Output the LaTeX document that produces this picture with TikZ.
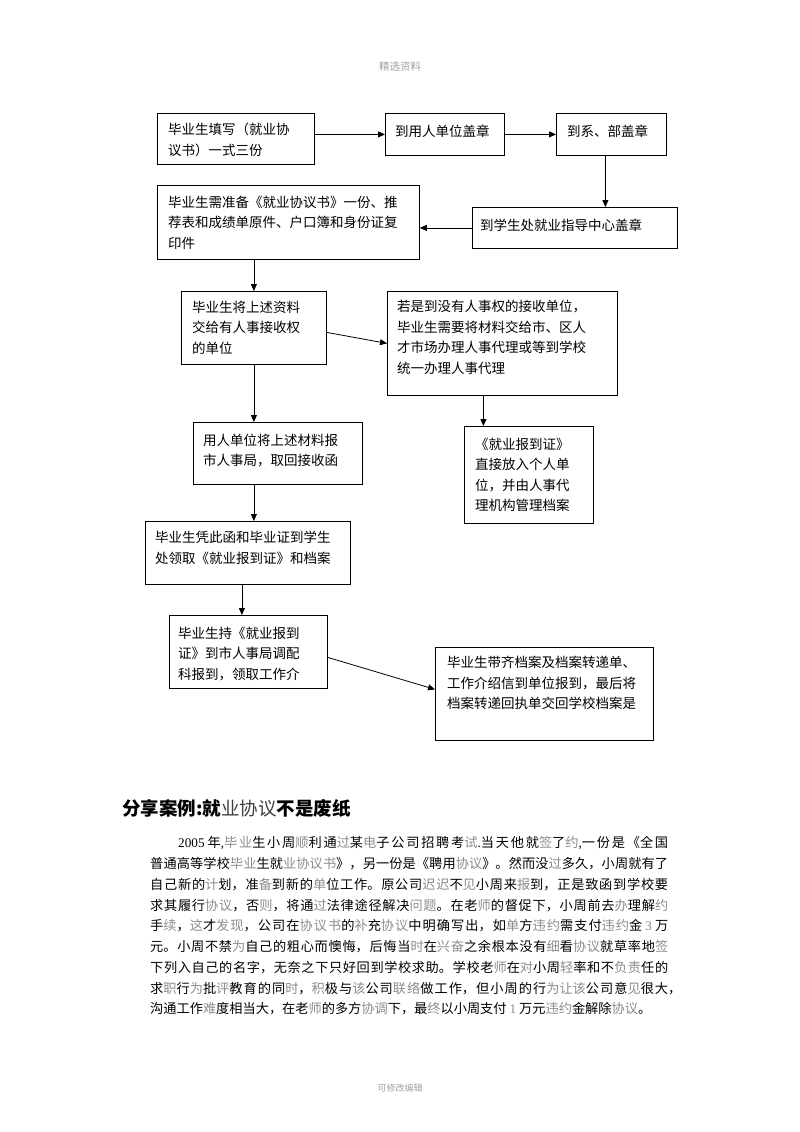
\documentclass[tikz,border=0pt]{standalone}
\usepackage{fontspec}
\setmainfont{Noto Sans CJK SC}
\newfontfamily\latf{Liberation Serif}
\usetikzlibrary{arrows.meta,calc}
\definecolor{lg}{HTML}{8C8C8C}
\definecolor{hd}{HTML}{A0A0A0}
\newcommand{\gy}[1]{\textcolor{lg}{#1}}
\XeTeXlinebreaklocale "zh"
\XeTeXlinebreakskip = 0pt plus 1.5pt
\begin{document}
\begin{tikzpicture}[x=1pt,y=-1pt,
  box/.style={draw, line width=0.8pt, inner sep=0pt, anchor=north west},
  btxt/.style={anchor=west, align=left, inner sep=0pt, font=\fontsize{13.5}{20.5}\selectfont},
  arr/.style={-{Triangle[length=7pt,width=6pt]}, line width=0.8pt}]
\useasboundingbox[fill=white] (0,0) rectangle (800,1132);

% header / footer
\node[inner sep=0pt, text=hd, font=\fontsize{10.5}{12}\selectfont] (hdr) at (400,67) {精选资料};
\node[inner sep=0pt, text=hd, font=\fontsize{9}{11}\selectfont] (ftr) at (400,1088) {可修改编辑};

% boxes
\node[box, minimum width=157pt, minimum height=51pt] (A) at (157,113) {};
\node[box, minimum width=119pt, minimum height=42pt] (B) at (385,113) {};
\node[box, minimum width=110pt, minimum height=42pt] (C) at (556,113) {};
\node[box, minimum width=205pt, minimum height=41pt] (D) at (472,207) {};
\node[box, minimum width=262pt, minimum height=74pt] (E) at (157,185) {};
\node[box, minimum width=145pt, minimum height=73pt] (F) at (181,291) {};
\node[box, minimum width=230pt, minimum height=104pt] (G) at (387,291) {};
\node[box, minimum width=169pt, minimum height=62pt] (H) at (193,422) {};
\node[box, minimum width=129pt, minimum height=97pt] (I) at (464,426) {};
\node[box, minimum width=205pt, minimum height=63pt] (J) at (145,521) {};
\node[box, minimum width=158pt, minimum height=73pt] (K) at (169,615) {};
\node[box, minimum width=218pt, minimum height=93pt] (L) at (435,647) {};

% box texts
\node[btxt] (At) at (168,140) {毕业生填写（就业协\\议书）一式三份};
\node[btxt] (Bt) at (395,131) {到用人单位盖章};
\node[btxt] (Ct) at (567,131) {到系、部盖章};
\node[btxt] (Dt) at (480,225) {到学生处就业指导中心盖章};
\node[btxt] (Et) at (168,222.5) {毕业生需准备《就业协议书》一份、推\\荐表和成绩单原件、户口簿和身份证复\\印件};
\node[btxt] (Ft) at (192,327.5) {毕业生将上述资料\\交给有人事接收权\\的单位};
\node[btxt] (Gt) at (397,337.5) {若是到没有人事权的接收单位，\\毕业生需要将材料交给市、区人\\才市场办理人事代理或等到学校\\统一办理人事代理};
\node[btxt] (Ht) at (203,450.5) {用人单位将上述材料报\\市人事局，取回接收函};
\node[btxt] (It) at (475,475) {《就业报到证》\\直接放入个人单\\位，并由人事代\\理机构管理档案};
\node[btxt] (Jt) at (155,548) {毕业生凭此函和毕业证到学生\\处领取《就业报到证》和档案};
\node[btxt] (Kt) at (178,654) {毕业生持《就业报到\\证》到市人事局调配\\科报到，领取工作介};
\node[btxt] (Lt) at (447,683) {毕业生带齐档案及档案转递单、\\工作介绍信到单位报到，最后将\\档案转递回执单交回学校档案是};

% connectors
\draw[arr] (A.east |- B.west) -- (B.west);
\draw[arr] (B.east) -- (C.west);
\draw[arr] ([xshift=-6pt]C.south) -- ([xshift=-6pt]C.south |- D.north);
\draw[arr] (D.west) -- (D.west -| E.east);
\draw[arr] (F.north |- E.south) -- (F.north);
\draw[arr] ([yshift=-4.5pt]F.east) -- (G.west);
\draw[arr] (F.south) -- (F.south |- H.north);
\draw[arr] ([xshift=-19pt]G.south) -- ([xshift=-19pt]G.south |- I.north);
\draw[arr] (F.south |- H.south) -- (F.south |- J.north);
\draw[arr] ([xshift=-6pt]J.south) -- ([xshift=-6pt]J.south |- K.north);
\draw[arr] ([yshift=-5.5pt]K.east) -- ([yshift=4.5pt]L.west);

% heading
\node[anchor=west, inner sep=0pt, font=\fontsize{18.5}{22}\selectfont] (ttl) at (122,808)
  {\bfseries 分享案例:就\textcolor{black!75}{\mdseries 业协议}不是废纸};

% body
\node[anchor=north west, inner sep=0pt, text width=518pt, align=justify,
      font=\fontsize{13.2}{20.75}\selectfont] (body) at (150,836.4) {%
\parindent=0pt\noindent\hspace*{28pt}{\latf 2005}\hspace{3pt}年{\latf ,}\gy{毕业}生小周\gy{顺}利通\gy{过}某\gy{电}子公司招聘考\gy{试}{\latf .}当天他就\gy{签}了\gy{约}{\latf ,}一份是《全国\linebreak
普通高等学校\gy{毕业}生就\gy{业协议书}》，另一份是《聘用\gy{协议}》。然而没\gy{过}多久，小周就有了\linebreak
自己新的\gy{计}划，准\gy{备}到新的\gy{单}位工作。原公司\gy{迟迟}不\gy{见}小周来\gy{报}到，正是致函到学校要\linebreak
求其履行\gy{协议}，否\gy{则}，将通\gy{过}法律途径解决\gy{问题}。在老\gy{师}的督促下，小周前去\gy{办}理解\gy{约}\linebreak
手\gy{续}，\gy{这}才\gy{发现}，公司在\gy{协议书}的\gy{补}充\gy{协议}中明确写出，如\gy{单}方\gy{违约}需支付\gy{违约}金\hspace{3pt}{\latf\gy{3}}\hspace{3pt}万\linebreak
元。小周不禁\gy{为}自己的粗心而懊悔，后悔当\gy{时}在\gy{兴奋}之余根本没有\gy{细}看\gy{协议}就草率地\gy{签}\linebreak
下列入自己的名字，无奈之下只好回到学校求助。学校老\gy{师}在\gy{对}小周\gy{轻}率和不\gy{负责}任的\linebreak
求\gy{职}行\gy{为}批\gy{评}教育的同\gy{时}，\gy{积}极与\gy{该}公司\gy{联络}做工作，但小周的行\gy{为}\gy{让}\gy{该}公司意\gy{见}很大\makebox[0pt][l]{，}\linebreak
沟通工作\gy{难}度相当大，在老\gy{师}的多方\gy{协调}下，最\gy{终}以小周支付\hspace{3pt}{\latf\gy{1}}\hspace{3pt}万元\gy{违约}金解除\gy{协议}。};
\end{tikzpicture}
\end{document}
